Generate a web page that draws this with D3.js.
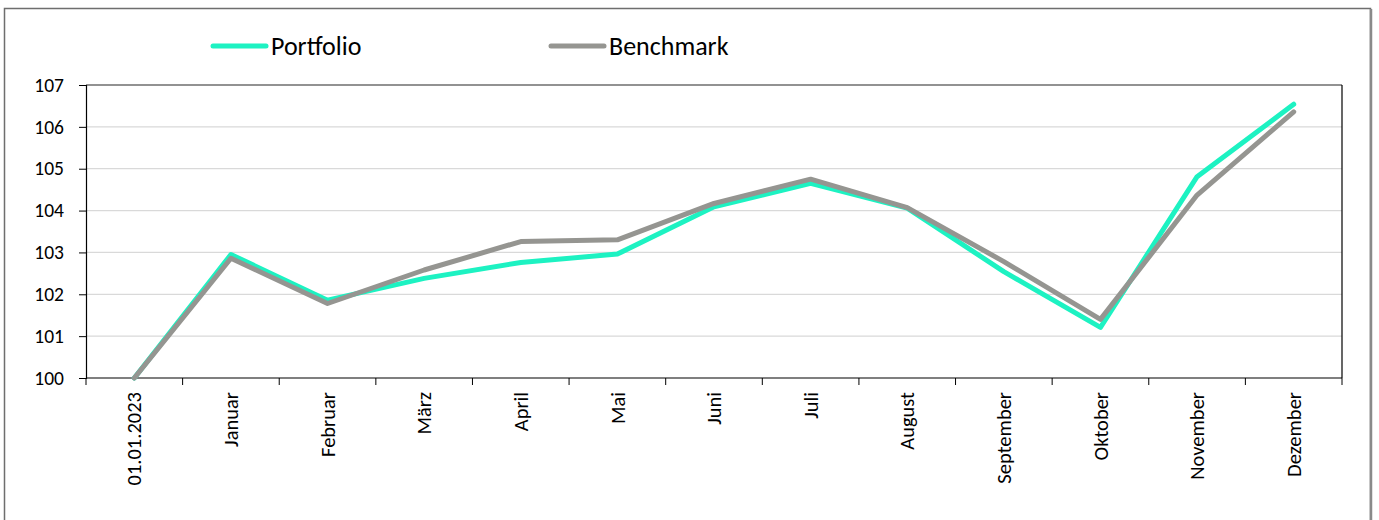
<!DOCTYPE html>
<html>
<head>
<meta charset="utf-8">
<script src="https://cdn.jsdelivr.net/npm/d3@7"></script>
<style>
  body { margin: 0; background: #fff; }
  svg text { font-family: Carlito, Calibri, Lato, "Open Sans", sans-serif; fill: #000; }
</style>
</head>
<body>
<svg id="chart" width="1379" height="520"></svg>
<script>
// categories (x axis)
var categories = ['01.01.2023', 'Januar', 'Februar', 'März', 'April', 'Mai', 'Juni',
                  'Juli', 'August', 'September', 'Oktober', 'November', 'Dezember'];

// series values, indexed to 100
var portfolio = [100, 102.95, 101.86, 102.38, 102.76, 102.96, 104.09, 104.65, 104.06, 102.54, 101.21, 104.81, 106.54];
var benchmark = [100, 102.86, 101.78, 102.58, 103.26, 103.30, 104.17, 104.75, 104.07, 102.78, 101.40, 104.37, 106.36];

var yTicks = [100, 101, 102, 103, 104, 105, 106, 107];

var series = [
    { name: 'Portfolio', values: portfolio, color: '#1df2c2' },
    { name: 'Benchmark', values: benchmark, color: '#959591' }
];

var svg = d3.select('#chart');

/*
** Outer frame
 */
svg.append('rect')
    .attr('x', 4.5).attr('y', 8.5)
    .attr('width', 1366).attr('height', 530)
    .attr('fill', 'none')
    .attr('stroke', '#6e6e6e')
    .attr('stroke-width', 1.5);
svg.append('line')
    .attr('x1', 1371).attr('x2', 1371)
    .attr('y1', 9).attr('y2', 520)
    .attr('stroke', '#8a8a8a')
    .attr('stroke-width', 2.5);

var plot = { left: 86, right: 1342, top: 85, bottom: 378 };

var x = d3.scaleBand()
    .domain(categories)
    .range([plot.left, plot.right]);

var y = d3.scaleLinear()
    .domain([100, 107])
    .range([plot.bottom, plot.top]);

// gridlines
svg.append('g')
    .selectAll('line')
    .data(yTicks.slice(1, -1))
    .join('line')
    .attr('x1', plot.left).attr('x2', plot.right)
    .attr('y1', function (d) { return y(d); })
    .attr('y2', function (d) { return y(d); })
    .attr('stroke', '#d9d9d9')
    .attr('stroke-width', 1.2);

// plot frame top / right
svg.append('line')
    .attr('x1', plot.left).attr('x2', plot.right)
    .attr('y1', plot.top).attr('y2', plot.top)
    .attr('stroke', '#6e6e6e').attr('stroke-width', 1.3);
svg.append('line')
    .attr('x1', plot.right).attr('x2', plot.right)
    .attr('y1', plot.top).attr('y2', plot.bottom)
    .attr('stroke', '#000').attr('stroke-width', 1.2);

// y axis
var yAxis = svg.append('g')
    .attr('transform', 'translate(' + plot.left + ',0)')
    .call(d3.axisLeft(y).tickValues(yTicks).tickSize(7).tickPadding(15).tickFormat(d3.format('d')));
yAxis.select('.domain').attr('stroke', '#000').attr('stroke-width', 1.2);
yAxis.selectAll('.tick line').attr('stroke', '#000');
yAxis.selectAll('.tick text').style('font-size', '19.5px');

// x axis: ticks between categories
var xAxis = svg.append('g')
    .attr('transform', 'translate(0,' + plot.bottom + ')');
xAxis.append('line')
    .attr('x1', plot.left).attr('x2', plot.right)
    .attr('stroke', '#000').attr('stroke-width', 1.2);
var bounds = categories.map(function (c) { return x(c); }).concat([plot.right]);
xAxis.selectAll('line.tick')
    .data(bounds)
    .join('line')
    .attr('class', 'tick')
    .attr('x1', function (d) { return d; })
    .attr('x2', function (d) { return d; })
    .attr('y1', 0).attr('y2', 7)
    .attr('stroke', '#000');
xAxis.selectAll('text')
    .data(categories)
    .join('text')
    .attr('transform', function (d) {
        return 'translate(' + (x(d) + x.bandwidth() / 2) + ',14) rotate(-90)';
    })
    .attr('dy', '0.35em')
    .attr('text-anchor', 'end')
    .style('font-size', '20.5px')
    .text(function (d) { return d; });

// lines
var line = d3.line()
    .x(function (d, i) { return x(categories[i]) + x.bandwidth() / 2; })
    .y(function (d) { return y(d); });

svg.append('g')
    .selectAll('path')
    .data(series)
    .join('path')
    .attr('d', function (s) { return line(s.values); })
    .attr('fill', 'none')
    .attr('stroke', function (s) { return s.color; })
    .attr('stroke-width', 5)
    .attr('stroke-linejoin', 'round')
    .attr('stroke-linecap', 'round');

/*
** Legend
 */
var legendX = [213, 551];
var legend = svg.append('g')
    .selectAll('g')
    .data(series)
    .join('g')
    .attr('transform', function (s, i) { return 'translate(' + legendX[i] + ',46)'; });
legend.append('line')
    .attr('x1', 0).attr('x2', 53)
    .attr('stroke', function (s) { return s.color; })
    .attr('stroke-width', 5)
    .attr('stroke-linecap', 'round');
legend.append('text')
    .attr('x', 58).attr('y', 9)
    .style('font-size', '26px')
    .text(function (s) { return s.name; });
</script>
</body>
</html>
